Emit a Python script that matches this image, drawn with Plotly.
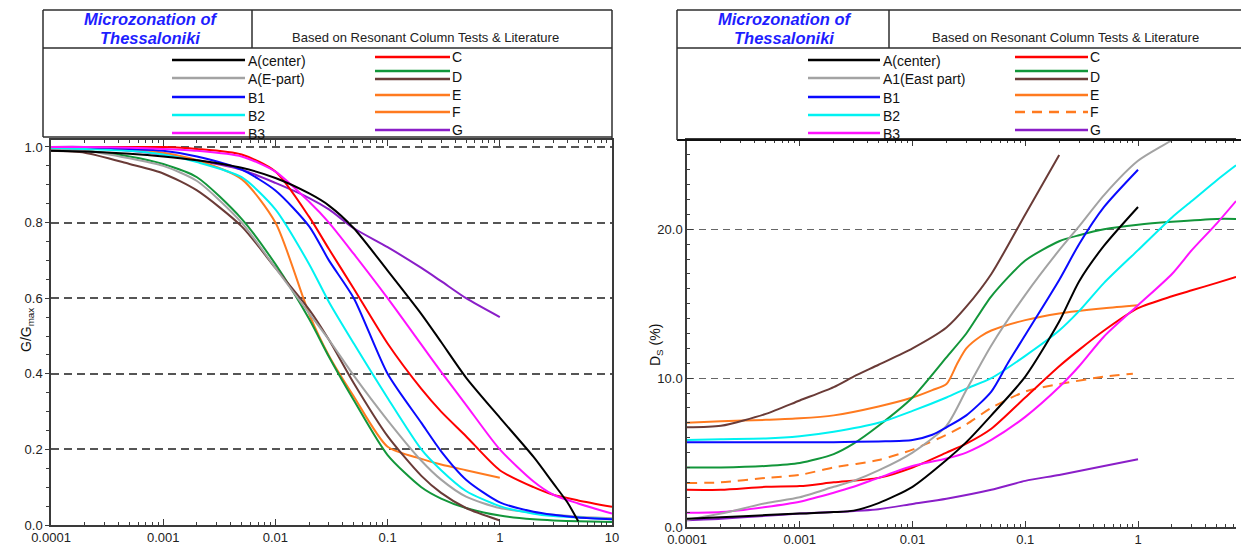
import plotly.graph_objects as go

W, H = 1241, 551

# ---------------- LEFT PANEL: G/Gmax vs shear strain (%) ----------------
strain_full = [0.0001, 0.0002, 0.0005, 0.001, 0.002, 0.005, 0.01, 0.02, 0.03, 0.05,
               0.1, 0.2, 0.3, 0.5, 1, 2, 3, 5, 10]
strain_to1 = [0.0001, 0.0002, 0.0005, 0.001, 0.002, 0.005, 0.01, 0.02, 0.03, 0.05,
              0.1, 0.2, 0.3, 0.5, 1]
strain_A_c = [0.0001, 0.0002, 0.0005, 0.001, 0.002, 0.005, 0.01, 0.02, 0.03, 0.05,
              0.1, 0.2, 0.3, 0.5, 1, 2, 3, 4, 5]

gg_A_center = [0.99, 0.988, 0.982, 0.975, 0.965, 0.945, 0.918, 0.877, 0.845, 0.785,
               0.673, 0.558, 0.484, 0.39, 0.284, 0.18, 0.11, 0.06, 0.01]
gg_A_east = [0.995, 0.99, 0.97, 0.95, 0.91, 0.80, 0.68, 0.56, 0.49, 0.395,
             0.277, 0.17, 0.12, 0.075, 0.045, 0.032, 0.027, 0.022, 0.018]
gg_B1 = [1.0, 1.0, 0.995, 0.99, 0.975, 0.94, 0.885, 0.79, 0.70, 0.60,
         0.40, 0.27, 0.195, 0.12, 0.06, 0.035, 0.027, 0.02, 0.015]
gg_B2 = [0.998, 0.995, 0.99, 0.98, 0.96, 0.92, 0.835, 0.69, 0.59, 0.48,
         0.336, 0.2, 0.145, 0.09, 0.05, 0.03, 0.024, 0.02, 0.015]
gg_B3 = [1.0, 1.0, 0.998, 0.995, 0.99, 0.975, 0.935, 0.855, 0.8, 0.717,
         0.6, 0.477, 0.405, 0.318, 0.2, 0.115, 0.08, 0.057, 0.03]
gg_C = [1.0, 1.0, 1.0, 1.0, 0.995, 0.98, 0.935, 0.815, 0.73, 0.625,
        0.48, 0.36, 0.30, 0.235, 0.145, 0.1, 0.08, 0.065, 0.048]
gg_D_green = [0.995, 0.99, 0.975, 0.955, 0.92, 0.81, 0.69, 0.545, 0.445, 0.33,
              0.185, 0.1, 0.07, 0.045, 0.025, 0.015, 0.012, 0.01, 0.008]
gg_D = [0.99, 0.985, 0.955, 0.93, 0.885, 0.79, 0.68, 0.57, 0.49, 0.375,
        0.235, 0.13, 0.085, 0.045, 0.012]
gg_E = [1.0, 1.0, 0.995, 0.985, 0.965, 0.915, 0.80, 0.558, 0.448, 0.34,
        0.207, 0.175, 0.16, 0.145, 0.125]
gg_G = [1.0, 1.0, 0.99, 0.98, 0.965, 0.94, 0.905, 0.865, 0.835, 0.785,
        0.735, 0.68, 0.645, 0.6, 0.55]

# ---------------- RIGHT PANEL: damping Ds (%) vs shear strain (%) ----------------
ds_A_center_x = [0.0001, 0.0002, 0.0005, 0.001, 0.002, 0.003, 0.005, 0.01, 0.02, 0.03,
                 0.05, 0.1, 0.2, 0.3, 0.5, 1]
ds_A_center = [0.55, 0.65, 0.8, 0.9, 1.0, 1.1, 1.6, 2.7, 4.5, 5.7,
               7.5, 10.1, 13.8, 16.5, 18.9, 21.5]
ds_A1_x = [0.0001, 0.0002, 0.0005, 0.001, 0.002, 0.003, 0.005, 0.01, 0.02, 0.03,
           0.05, 0.1, 0.2, 0.3, 0.5, 1, 2, 3]
ds_A1 = [0.47, 0.9, 1.6, 2.0, 2.7, 3.1, 3.8, 5.0, 6.8, 9.2,
         12.2, 15.6, 18.6, 20.2, 22.3, 24.6, 26.0, 27.0]
ds_B1_x = [0.0001, 0.001, 0.002, 0.005, 0.01, 0.015, 0.02, 0.03, 0.05, 0.07,
           0.1, 0.2, 0.3, 0.5, 1]
ds_B1 = [5.7, 5.7, 5.7, 5.75, 5.85, 6.2, 6.7, 7.5, 9.1, 11.0,
         12.9, 16.6, 19.0, 21.5, 24.0]
ds_B2_x = [0.0001, 0.0002, 0.0005, 0.001, 0.002, 0.005, 0.01, 0.02, 0.03, 0.05,
           0.1, 0.2, 0.3, 0.5, 1, 2, 3, 5, 7.4]
ds_B2 = [5.85, 5.9, 5.95, 6.1, 6.4, 7.0, 7.8, 8.7, 9.3, 10.0,
         11.5, 13.2, 14.5, 16.4, 18.6, 20.8, 21.9, 23.3, 24.3]
ds_B3_x = [0.0001, 0.0002, 0.0005, 0.001, 0.002, 0.003, 0.005, 0.01, 0.02, 0.03,
           0.05, 0.1, 0.2, 0.3, 0.5, 1, 2, 3, 5, 7.4]
ds_B3 = [0.95, 1.0, 1.35, 1.7, 2.3, 2.7, 3.3, 4.1, 4.6, 5.0,
         5.85, 7.4, 9.4, 10.8, 12.8, 14.9, 17.0, 18.6, 20.4, 21.9]
ds_C_x = [0.0001, 0.0002, 0.0005, 0.001, 0.002, 0.005, 0.01, 0.02, 0.03, 0.05,
          0.1, 0.2, 0.3, 0.5, 1, 2, 3, 5, 7.4]
ds_C = [2.5, 2.5, 2.7, 2.75, 3.0, 3.3, 4.0, 5.0, 5.6, 6.6,
        8.7, 10.8, 11.9, 13.2, 14.7, 15.5, 15.9, 16.4, 16.8]
ds_D_green_x = [0.0001, 0.0002, 0.0005, 0.001, 0.002, 0.003, 0.005, 0.01, 0.02, 0.03,
                0.05, 0.1, 0.2, 0.3, 0.5, 1, 2, 5, 7.4]
ds_D_green = [4.0, 4.0, 4.1, 4.3, 4.9, 5.6, 6.8, 8.7, 11.4, 13.0,
              15.5, 17.9, 19.2, 19.6, 20.0, 20.3, 20.5, 20.7, 20.7]
ds_D_x = [0.0001, 0.0002, 0.0005, 0.001, 0.002, 0.003, 0.005, 0.01, 0.02, 0.03,
          0.05, 0.1, 0.2]
ds_D = [6.7, 6.8, 7.6, 8.5, 9.4, 10.1, 10.9, 12.0, 13.4, 14.8,
        17.0, 21.0, 25.0]
ds_E_x = [0.0001, 0.0002, 0.0005, 0.001, 0.002, 0.005, 0.01, 0.015, 0.02, 0.025,
          0.03, 0.04, 0.05, 0.1, 0.2, 0.5, 1]
ds_E = [7.0, 7.1, 7.2, 7.3, 7.5, 8.1, 8.7, 9.2, 9.6, 11.0,
        12.0, 12.8, 13.2, 13.9, 14.35, 14.7, 14.9]
ds_F_x = [0.0001, 0.0002, 0.0005, 0.001, 0.002, 0.005, 0.01, 0.02, 0.03, 0.05,
          0.1, 0.2, 0.5, 0.9]
ds_F = [2.95, 3.0, 3.3, 3.5, 4.0, 4.5, 5.2, 6.2, 6.9, 8.0,
        9.1, 9.6, 10.1, 10.3]
ds_G_x = [0.0001, 0.0002, 0.0005, 0.001, 0.002, 0.005, 0.01, 0.02, 0.05, 0.1,
          0.2, 0.5, 1]
ds_G = [0.45, 0.55, 0.75, 0.9, 1.0, 1.2, 1.55, 1.9, 2.5, 3.1,
        3.5, 4.1, 4.55]

# tick labels
x_tickvals_left = [0.0001, 0.001, 0.01, 0.1, 1, 10]
x_ticktext_left = ["0.0001", "0.001", "0.01", "0.1", "1", "10"]
x_tickvals_right = [0.0001, 0.001, 0.01, 0.1, 1]
x_ticktext_right = ["0.0001", "0.001", "0.01", "0.1", "1"]
title_lines = ["Microzonation of", "Thessaloniki"]
subtitle = "Based on Resonant Column Tests & Literature"
legend_left_1 = ["A(center)", "A(E-part)", "B1", "B2", "B3"]
legend_right_1 = ["A(center)", "A1(East part)", "B1", "B2", "B3"]
legend_col2 = ["C", "", "D", "E", "F", "G"]

# colours
C_BLACK = "#000000"
C_GRAY = "#a3a3a3"
C_BLUE = "#0a0aff"
C_CYAN = "#00f2f2"
C_MAG = "#ff12ff"
C_RED = "#ff0000"
C_GREEN = "#12963a"
C_BROWN = "#6a3b37"
C_ORANGE = "#ff7a1f"
C_PURPLE = "#8a1ec8"

LW = 2.0
fig = go.Figure()


def add(x, y, color, xa, ya, dash="solid"):
    fig.add_trace(go.Scatter(x=x, y=y, mode="lines", xaxis=xa, yaxis=ya,
                             line=dict(color=color, width=LW, dash=dash,
                                       shape="spline", smoothing=0.7),
                             showlegend=False, hoverinfo="skip"))


# left traces (drawing order)
add(strain_to1, gg_G, C_PURPLE, "x", "y")
add(strain_to1, gg_E, C_ORANGE, "x", "y")
add(strain_full, gg_D_green, C_GREEN, "x", "y")
add(strain_to1, gg_D, C_BROWN, "x", "y")
add(strain_full, gg_A_east, C_GRAY, "x", "y")
add(strain_full, gg_B2, C_CYAN, "x", "y")
add(strain_full, gg_B1, C_BLUE, "x", "y")
add(strain_full, gg_C, C_RED, "x", "y")
add(strain_full, gg_B3, C_MAG, "x", "y")
add(strain_A_c, gg_A_center, C_BLACK, "x", "y")

# right traces
add(ds_G_x, ds_G, C_PURPLE, "x2", "y2")
add(ds_F_x, ds_F, C_ORANGE, "x2", "y2", dash="10px,7px")
add(ds_E_x, ds_E, C_ORANGE, "x2", "y2")
add(ds_D_x, ds_D, C_BROWN, "x2", "y2")
add(ds_D_green_x, ds_D_green, C_GREEN, "x2", "y2")
add(ds_C_x, ds_C, C_RED, "x2", "y2")
add(ds_B3_x, ds_B3, C_MAG, "x2", "y2")
add(ds_B2_x, ds_B2, C_CYAN, "x2", "y2")
add(ds_A1_x, ds_A1, C_GRAY, "x2", "y2")
add(ds_B1_x, ds_B1, C_BLUE, "x2", "y2")
add(ds_A_center_x, ds_A_center, C_BLACK, "x2", "y2")


def px(x):
    return x / W


def py(y):
    return 1 - y / H


minor_log = [m * 10 ** e for e in range(-4, 1) for m in range(2, 10)]

TICKFONT = dict(family="Arial, Liberation Sans, sans-serif", size=13, color="#222")
AXCOL = "#3a3a3a"


def xcommon(tv, tt):
    return dict(type="log", showline=True, linecolor=AXCOL, linewidth=1.5,
                ticks="inside", ticklen=6, tickwidth=1, tickcolor=AXCOL,
                tickmode="array", tickvals=tv, ticktext=tt, tickfont=TICKFONT,
                showgrid=False, zeroline=False, mirror="ticks", automargin=False,
                minor=dict(tickmode="array", tickvals=minor_log, ticks="inside",
                           ticklen=3, tickcolor=AXCOL, showgrid=False))


fig.update_layout(
    template="none",
    width=W, height=H, autosize=False,
    margin=dict(l=0, r=0, t=0, b=0, pad=0),
    paper_bgcolor="white", plot_bgcolor="white",
    font=dict(family="Arial, Liberation Sans, sans-serif"),
    xaxis=dict(domain=[px(51), px(612)], range=[-4, 1], anchor="y",
               **xcommon(x_tickvals_left, x_ticktext_left)),
    yaxis=dict(domain=[py(525), py(140)], range=[0, 1.0185], anchor="x",
               tickmode="linear", dtick=0.2, tick0=0, tickformat=".1f", showline=True,
               linecolor=AXCOL, linewidth=1.5, mirror=True, automargin=False,
               ticks="outside", ticklen=4, tickcolor=AXCOL, tickfont=TICKFONT,
               showgrid=True, gridcolor="#555555", gridwidth=1.5,
               griddash="8px,5px", zeroline=False,
               minor=dict(dtick=0.05, ticks="outside", ticklen=3,
                          tickcolor=AXCOL, showgrid=False)),
    xaxis2=dict(domain=[px(687), px(1236)], range=[-4, 0.869], anchor="y2",
                **xcommon(x_tickvals_right, x_ticktext_right)),
    yaxis2=dict(domain=[py(527), py(140)], range=[0, 26], anchor="x2",
                tickmode="linear", dtick=10, tick0=0, tickformat=".1f", showline=True,
                linecolor=AXCOL, linewidth=1.5, mirror=False, automargin=False,
                ticks="inside", ticklen=6, tickcolor=AXCOL, tickfont=TICKFONT,
                showgrid=True, gridcolor="#666666", gridwidth=1,
                griddash="7px,5px", zeroline=False,
                minor=dict(dtick=1, ticks="inside", ticklen=3,
                           tickcolor=AXCOL, showgrid=False)),
)

shapes = []
annots = []


def hline(x0, x1, y, color="#333", width=1.5, dash="solid"):
    shapes.append(dict(type="line", xref="paper", yref="paper",
                       x0=px(x0), x1=px(x1), y0=py(y), y1=py(y),
                       line=dict(color=color, width=width, dash=dash)))


def vline(x, y0, y1, color="#333", width=1.5):
    shapes.append(dict(type="line", xref="paper", yref="paper",
                       x0=px(x), x1=px(x), y0=py(y0), y1=py(y1),
                       line=dict(color=color, width=width)))


def text(x, y, s, size=14, color="#111", xanchor="left", bold_italic=False):
    if bold_italic:
        s = "<b><i>" + s + "</i></b>"
    annots.append(dict(x=px(x), y=py(y), xref="paper", yref="paper", text=s,
                       showarrow=False, xanchor=xanchor, yanchor="middle",
                       font=dict(size=size, color=color,
                                 family="Arial, Liberation Sans, sans-serif")))


BOXC = "#2e2e2e"
# left header box
hline(43, 612, 10, BOXC)
hline(43, 612, 48, BOXC)
hline(43, 612, 137, BOXC)
vline(43, 10, 137, BOXC)
vline(612, 10, 140, BOXC)
vline(252, 10, 48, BOXC)
# right header box
hline(677, 1241, 10, BOXC)
hline(677, 1241, 48, BOXC)
hline(677, 1241, 140, "#111", 2)
vline(677, 10, 140, BOXC)
vline(889, 10, 48, BOXC)

TITLE_BLUE = "#1e1eff"
for cx, sx in [(150, 290), (784, 930)]:
    text(cx, 19, title_lines[0], size=16.5, color=TITLE_BLUE, xanchor="center", bold_italic=True)
    text(cx, 38, title_lines[1], size=16.5, color=TITLE_BLUE, xanchor="center", bold_italic=True)
    text(sx, 37, subtitle, size=13, color="#222")

col1_colors = [C_BLACK, C_GRAY, C_BLUE, C_CYAN, C_MAG]
col1_y = [60, 78, 97, 115, 133]
col2_colors = [C_RED, C_GREEN, C_BROWN, C_ORANGE, C_ORANGE, C_PURPLE]
col2_line_y = [57, 71, 79, 95, 112, 130]
col2_text_y = [57, 71, 77, 95, 112, 130]

# left legend
for lab, c, yy in zip(legend_left_1, col1_colors, col1_y):
    hline(172, 245, yy, c, 2.5)
    text(246, yy + 1, lab, size=14)
for lab, c, yl, yt in zip(legend_col2, col2_colors, col2_line_y, col2_text_y):
    hline(375, 450, yl, c, 2.5)
    if lab:
        text(450, yt, lab, size=14)

# right legend
for lab, c, yy in zip(legend_right_1, col1_colors, col1_y):
    hline(808, 880, yy, c, 2.5)
    text(881, yy + 1, lab, size=14)
for i, (lab, c, yl, yt) in enumerate(zip(legend_col2, col2_colors, col2_line_y, col2_text_y)):
    hline(1015, 1088, yl, c, 2.5, dash="10px,7px" if i == 4 else "solid")
    if lab:
        text(1088, yt, lab, size=14)

# axis titles
annots.append(dict(x=px(16), y=py(330), xref="paper", yref="paper",
                   text="G/G<sub>max</sub>", textangle=-90, showarrow=False,
                   font=dict(size=14, color="#111")))
annots.append(dict(x=px(656), y=py(368), xref="paper", yref="paper",
                   text="D<sub>S</sub> (%)", textangle=-90, showarrow=False,
                   font=dict(size=14, color="#111")))

fig.update_layout(shapes=shapes, annotations=annots)
fig.write_html("out.html")
